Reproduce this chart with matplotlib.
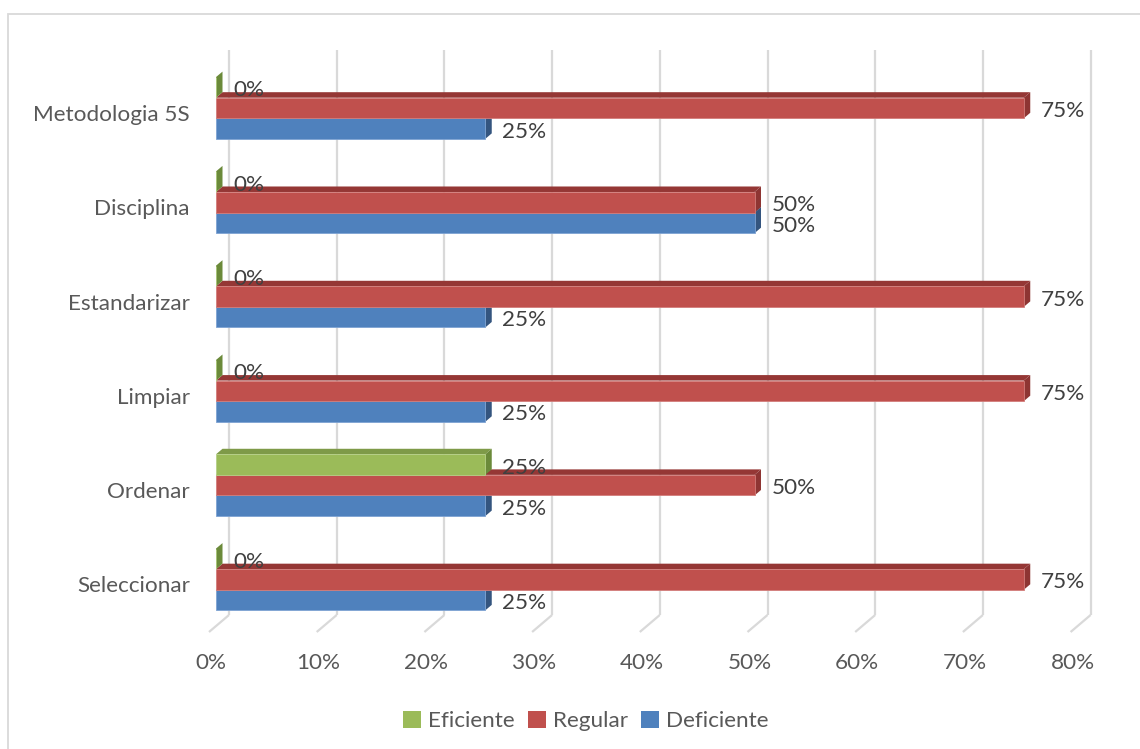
import matplotlib
matplotlib.use("Agg")
import matplotlib.pyplot as plt
from matplotlib.patches import Polygon, Rectangle, Patch
from matplotlib.transforms import ScaledTranslation
import numpy as np

plt.rcParams['font.family'] = ['Lato', 'DejaVu Sans']

categories = ["Seleccionar", "Ordenar", "Limpiar", "Estandarizar", "Disciplina", "Metodologia 5S"]
eficiente = [0, 25, 0, 0, 0, 0]
regular = [75, 50, 75, 75, 50, 75]
deficiente = [25, 25, 25, 25, 50, 25]
series_names = ["Eficiente", "Regular", "Deficiente"]
xticks = [0, 10, 20, 30, 40, 50, 60, 70, 80]
xtick_labels = ["0%", "10%", "20%", "30%", "40%", "50%", "60%", "70%", "80%"]

front_cols = ['#9BBB59', '#C0504D', '#4F81BD']
top_cols = ['#7E9A48', '#953735', '#3F6797']
side_cols = ['#6B8A3A', '#8E3533', '#34557F']
edge_cols = ['#B5CF86', '#D27D7A', '#7EA3D3']
FS = 16.2

W, H, DPI = 1140, 749, 100
fig = plt.figure(figsize=(W / DPI, H / DPI), dpi=DPI)
fig.patch.set_facecolor('white')

# chart border
fig.add_artist(Rectangle((8 / W, -0.1), 1.2, 1 - 14 / H + 0.1, transform=fig.transFigure,
                         fill=False, edgecolor='#D9D9D9', lw=1.3))

ax_left, ax_right = 216, 216 + 80 * 10.77
ax_top, ax_bot = 50, 632
ax = fig.add_axes([ax_left / W, (H - ax_bot) / H, (ax_right - ax_left) / W, (ax_bot - ax_top) / H])
ax.set_xlim(0, 80)
ax.set_ylim(-0.557, 5.615)
ax.axis('off')


def off(dx, dy):
    return ax.transData + ScaledTranslation(dx / DPI, dy / DPI, fig.dpi_scale_trans)


ymin, ymax = ax.get_ylim()

# px-per-unit for depth conversion
(x0p, y0p) = ax.transData.transform((0, 0))
(x1p, y1p) = ax.transData.transform((1, 1))
pxu_x = x1p - x0p
pxu_y = y1p - y0p

# back wall gridlines and floor diagonals
floor_back_y = ymin + 17 / pxu_y
for v in xticks:
    ax.plot([v + 13 / pxu_x, v + 13 / pxu_x], [floor_back_y, ymax], color='#D9D9D9', lw=1.6,
            zorder=0, solid_capstyle='butt', clip_on=False)
    ax.plot([v + 13 / pxu_x, v - 7 / pxu_x], [floor_back_y, ymin], color='#D9D9D9', lw=1.6,
            zorder=0, solid_capstyle='butt', clip_on=False)

# x tick labels
for v, lab in zip(xticks, xtick_labels):
    ax.text(v, ymin, lab, transform=off(-5, -31), ha='center', va='center',
            fontsize=FS, color='#595959')

# category labels
for i, c in enumerate(categories):
    ax.text(0, i, c, transform=off(-26, -7), ha='right', va='center', fontsize=FS, color='#595959')

# bars
bh = 20.6 / pxu_y
ddx = 6.5 / pxu_x
ddy = 5.5 / pxu_y
series = [eficiente, regular, deficiente]
offsets = [bh, 0, -bh]
y = np.arange(len(categories))
z = 2
for s_idx in [2, 1, 0]:
    vals = series[s_idx]
    for i, v in enumerate(vals):
        yc = y[i] + offsets[s_idx]
        yb, yt = yc - bh / 2, yc + bh / 2
        ax.add_patch(Polygon([(0, yt), (v, yt), (v + ddx, yt + ddy), (ddx, yt + ddy)],
                             closed=True, facecolor=top_cols[s_idx], edgecolor='none', zorder=z))
        ax.add_patch(Polygon([(v, yb), (v + ddx, yb + ddy), (v + ddx, yt + ddy), (v, yt)],
                             closed=True, facecolor=side_cols[s_idx], edgecolor='none', zorder=z))
    ax.barh(y + offsets[s_idx], vals, height=bh, color=front_cols[s_idx],
            edgecolor=edge_cols[s_idx], linewidth=0.6, zorder=z + 0.5)
    z += 1
    for i, v in enumerate(vals):
        ax.text(v, y[i] + offsets[s_idx], f"{v}%", transform=off(17, -3), ha='left', va='center',
                fontsize=FS, color='#404040', zorder=10)

# legend
handles = [Patch(facecolor=front_cols[k], edgecolor='none') for k in range(3)]
fig.legend(handles, series_names, loc='center', bbox_to_anchor=(586 / W, 1 - 721 / H), ncol=3,
           frameon=False, fontsize=FS, handlelength=0.8, handleheight=0.8, handletextpad=0.3,
           columnspacing=0.6, labelcolor='#595959')

fig.savefig('out.png', dpi=DPI, facecolor='white')
